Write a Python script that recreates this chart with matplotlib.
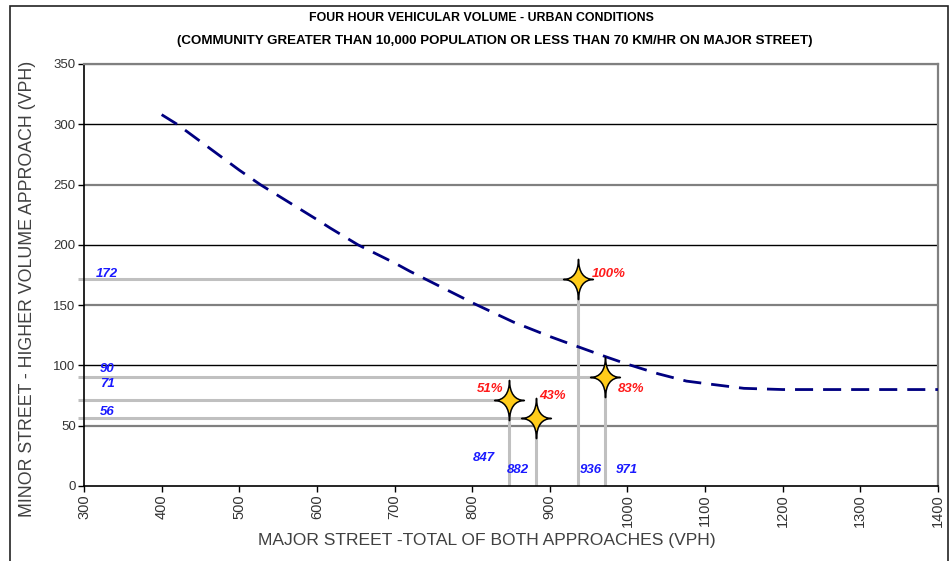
import numpy as np
import matplotlib
matplotlib.use('Agg')
import matplotlib.pyplot as plt
from matplotlib.path import Path
from matplotlib.patches import Rectangle

plt.rcParams['font.family'] = ['Liberation Sans', 'DejaVu Sans']

# warrant curve (major street total vs minor street higher volume approach)
curve_x = [400, 420, 500, 527, 600, 617, 653, 700, 720, 788, 800, 853, 900, 917, 973, 1000, 1040, 1076, 1100, 1150, 1200, 1300, 1400]
curve_y = [308, 300, 262, 250, 221, 214, 200, 185, 178, 156, 152, 136, 124, 120, 107, 101, 93, 87, 85, 81, 80, 80, 80]

# observed counts
major = [847, 882, 936, 971]
minor = [71, 56, 172, 90]
pct = ['51%', '43%', '100%', '83%']

xticks = list(range(300, 1500, 100))
yticks = list(range(0, 400, 50))

# four point star marker with concave arms
c = 0.02
star = Path(
    [(0, 1), (c, c), (0.74, 0), (c, -c), (0, -1),
     (-c, -c), (-0.74, 0), (-c, c), (0, 1), (0, 1)],
    [Path.MOVETO, Path.CURVE3, Path.CURVE3, Path.CURVE3, Path.CURVE3,
     Path.CURVE3, Path.CURVE3, Path.CURVE3, Path.CURVE3, Path.CLOSEPOLY])

fig = plt.figure(figsize=(9.52, 5.61), dpi=100)
ax = fig.add_axes([84 / 952, 1 - 486 / 561, (938 - 84) / 952, (486 - 64) / 561])
ax.set_xlim(300, 1400)
ax.set_ylim(0, 350)

# alternating grid lines
for y in yticks[1:]:
    if y % 100 == 0:
        ax.axhline(y, color='black', lw=1.0, zorder=1)
    else:
        ax.axhline(y, color='#808080', lw=1.6, zorder=1)

# gray reference lines to each point
for x, y in zip(major, minor):
    ax.plot([292, x], [y, y], color='#c0c0c0', lw=2.2, zorder=2, clip_on=False,
            solid_capstyle='butt')
    ax.plot([x, x], [0, y], color='#c0c0c0', lw=2.2, zorder=2, solid_capstyle='butt')

ax.plot(curve_x, curve_y, color='#000080', lw=2.0, dashes=(6.5, 3.6), zorder=3)

ax.plot(major, minor, linestyle='none', marker=star, markersize=29,
        markerfacecolor='#ffcc1a', markeredgecolor='black', markeredgewidth=1.1, zorder=4)

lab = dict(ha='center', va='center', fontsize=9.5, fontweight='bold',
           fontstyle='italic', zorder=5)

# value labels
ylab_off = {172: 3, 90: 6, 71: 12, 56: 5}
for y in minor:
    ax.annotate(str(y), (330, y), xytext=(0, ylab_off[y]), textcoords='offset points',
                color='#1a1aff', **lab)

xlab_off = {847: (-18, 20), 882: (-13, 11.5), 936: (9, 11.5), 971: (16, 11.5)}
for x in major:
    ax.annotate(str(x), (x, 0), xytext=xlab_off[x], textcoords='offset points',
                color='#1a1aff', **lab)

pct_off = {847: (-13, 8), 882: (12, 16), 936: (22, 3), 971: (19, -8)}
for x, y, p in zip(major, minor, pct):
    ax.annotate(p, (x, y), xytext=pct_off[x], textcoords='offset points',
                color='#ff1a1a', **lab)

ax.set_xticks(xticks)
ax.set_xticklabels([str(t) for t in xticks], rotation=90, fontsize=10.5, color='#333333')
ax.set_yticks(yticks)
ax.set_yticklabels([str(t) for t in yticks], fontsize=9.5, color='#333333')
ax.tick_params(axis='both', direction='out', length=4, width=1, color='black', pad=2)

ax.spines['top'].set_color('#808080')
ax.spines['top'].set_linewidth(1.6)
ax.spines['right'].set_color('#808080')
ax.spines['right'].set_linewidth(1.6)
ax.spines['left'].set_linewidth(1.2)
ax.spines['bottom'].set_linewidth(1.2)

fig.text(28 / 952, 1 - 289 / 561, 'MINOR STREET - HIGHER VOLUME APPROACH (VPH)',
         rotation=90, ha='center', va='center', fontsize=12.8, color='#404040')
fig.text(487 / 952, 1 - 541 / 561, 'MAJOR STREET -TOTAL OF BOTH APPROACHES (VPH)',
         ha='center', va='center', fontsize=12.6, color='#404040')

fig.text(481 / 952, 1 - 18 / 561, 'FOUR HOUR VEHICULAR VOLUME - URBAN CONDITIONS',
         ha='center', va='center', fontsize=8.9, fontweight='bold')
fig.text(495 / 952, 1 - 41 / 561,
         '(COMMUNITY GREATER THAN 10,000 POPULATION OR LESS THAN 70 KM/HR ON MAJOR STREET)',
         ha='center', va='center', fontsize=9.6, fontweight='bold')

# outer chart frame
fig.patches.append(Rectangle((10 / 952, -0.02), (948 - 10) / 952, 1.02 - 6 / 561,
                             transform=fig.transFigure, fill=False,
                             edgecolor='#222222', lw=1.2))

fig.savefig('out.png', dpi=100)
